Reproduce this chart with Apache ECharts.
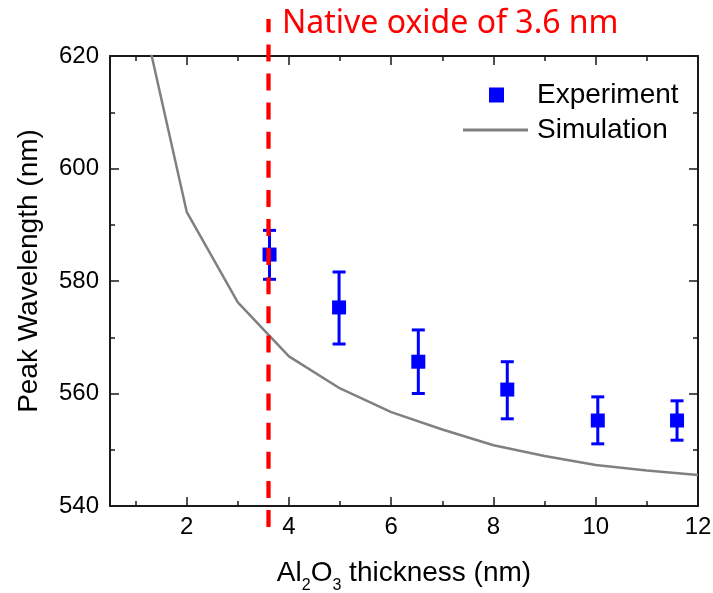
<!DOCTYPE html>
<html>
<head>
<meta charset="utf-8">
<script src="https://cdn.jsdelivr.net/npm/echarts@6/dist/echarts.min.js"></script>
<style>
html,body{margin:0;padding:0;background:#fff;}
#chart{width:713px;height:593px;}
</style>
</head>
<body>
<div id="chart"></div>
<script>
// ---- data ----
const expX    = [3.62, 4.98, 6.53, 8.27, 10.04, 11.59];
const expY    = [584.7, 575.3, 565.65, 560.7, 555.2, 555.2];
const expLow  = [580.3, 568.8, 560.0, 555.5, 551.05, 551.7];
const expHigh = [589.0, 581.6, 571.3, 565.65, 559.4, 558.7];

const simX = [1, 2, 3, 4, 5, 6, 7, 8, 9, 10, 11, 12];
const simY = [632.8, 592.3, 576.2, 566.6, 560.9, 556.7, 553.6, 550.8, 548.9, 547.3, 546.3, 545.5];

const nativeOxide = 3.6;

const xMajorTicks = [2, 4, 6, 8, 10, 12];
const xMinorTicks = [1, 3, 5, 7, 9, 11];
const xMin = 0.5, xMax = 12;
const yMin = 540, yMax = 620, yStep = 20;

const titleText = 'Native oxide of 3.6 nm';
// ----------------

const AXIS_COLOR = '#1a1a1a';
const FONT = 'Liberation Sans, Arial, sans-serif';

const chart = echarts.init(document.getElementById('chart'), null, {renderer: 'canvas'});

function xAxisCfg(pos, ticks, len, showLine, labels) {
  return {
    type: 'value', position: pos, min: xMin, max: xMax,
    axisLine: {show: showLine, onZero: false, lineStyle: {color: AXIS_COLOR, width: 2}},
    axisTick: {show: true, inside: true, length: len, customValues: ticks, lineStyle: {color: AXIS_COLOR, width: 1.5}},
    axisLabel: labels ? {show: true, customValues: ticks, fontSize: 24, fontFamily: FONT, color: '#000', margin: 9} : {show: false},
    splitLine: {show: false}
  };
}

const xAxes = [
  Object.assign(xAxisCfg('bottom', xMajorTicks, 9, true, true), {
    name: '{m|Al}{s|2}{m|O}{s|3}{m| thickness (nm)}',
    nameLocation: 'middle', nameGap: 52,
    nameTextStyle: {
      rich: {
        m: {fontSize: 28, fontFamily: FONT, color: '#000', lineHeight: 30},
        s: {fontSize: 16, fontFamily: FONT, color: '#000', lineHeight: 16, padding: [26, 0, 0, 0]}
      }
    }
  }),
  xAxisCfg('bottom', xMinorTicks, 5, false, false),
  xAxisCfg('top', xMajorTicks, 9, true, false),
  xAxisCfg('top', xMinorTicks, 5, false, false)
];

function yAxisCfg(pos, labels) {
  return {
    type: 'value', position: pos, min: yMin, max: yMax, interval: yStep,
    axisLine: {show: true, onZero: false, lineStyle: {color: AXIS_COLOR, width: 2}},
    axisTick: {show: true, inside: true, length: 9, lineStyle: {color: AXIS_COLOR, width: 1.5}},
    minorTick: {show: true, splitNumber: 2, length: 5, lineStyle: {color: AXIS_COLOR, width: 1.5}},
    axisLabel: labels ? {show: true, fontSize: 24, fontFamily: FONT, color: '#000', margin: 11} : {show: false},
    splitLine: {show: false}
  };
}

const yAxes = [
  Object.assign(yAxisCfg('left', true), {
    name: 'Peak Wavelength (nm)', nameLocation: 'middle', nameGap: 67,
    nameTextStyle: {fontSize: 28, fontFamily: FONT, color: '#000', padding: [0, 0, 0, 20]}
  }),
  yAxisCfg('right', false)
];

const option = {
  backgroundColor: '#fff',
  animation: false,
  title: {
    text: titleText, left: 282, top: 8, padding: 0,
    textStyle: {fontSize: 32, fontFamily: 'Noto Sans', fontWeight: 'normal', color: '#ff0000', lineHeight: 32}
  },
  grid: {left: 110, right: 15, top: 56, bottom: 87, containLabel: false, outerBoundsMode: 'none'},
  xAxis: xAxes,
  yAxis: yAxes,
  legend: [
    {
      data: ['Experiment'], left: 489, top: 80, padding: 0, orient: 'vertical',
      itemWidth: 15, itemHeight: 15, icon: 'rect',
      selectedMode: false,
      textStyle: {fontSize: 28, fontFamily: FONT, color: '#000', lineHeight: 30, padding: [0, 0, 0, 28]}
    },
    {
      data: ['Simulation'], left: 463, top: 115, padding: 0, orient: 'vertical',
      itemWidth: 65, itemHeight: 3, icon: 'rect', selectedMode: false,
      textStyle: {fontSize: 28, fontFamily: FONT, color: '#000', lineHeight: 30, padding: [0, 0, 0, 4]}
    }
  ],
  series: [
    {
      name: 'Simulation', type: 'line', xAxisIndex: 0, yAxisIndex: 0,
      data: simX.map((x, i) => [x, simY[i]]),
      symbol: 'none', showSymbol: false, clip: true,
      lineStyle: {color: '#808080', width: 2.5}, itemStyle: {color: '#808080'}, z: 2
    },
    {
      name: 'errorbars', type: 'custom', xAxisIndex: 0, yAxisIndex: 0,
      data: expX.map((x, i) => [x, expLow[i], expHigh[i]]),
      encode: {x: 0, y: [1, 2]},
      z: 3,
      renderItem: function (params, api) {
        const x = api.value(0), lo = api.value(1), hi = api.value(2);
        const pl = api.coord([x, lo]), ph = api.coord([x, hi]);
        const hw = 6.5;
        const st = {stroke: '#0000ff', lineWidth: 3, fill: null};
        return {
          type: 'group', children: [
            {type: 'line', shape: {x1: pl[0], y1: pl[1], x2: ph[0], y2: ph[1]}, style: st},
            {type: 'line', shape: {x1: pl[0] - hw, y1: pl[1], x2: pl[0] + hw, y2: pl[1]}, style: st},
            {type: 'line', shape: {x1: ph[0] - hw, y1: ph[1], x2: ph[0] + hw, y2: ph[1]}, style: st}
          ]
        };
      }
    },
    {
      name: 'Experiment', type: 'scatter', xAxisIndex: 0, yAxisIndex: 0,
      data: expX.map((x, i) => [x, expY[i]]),
      symbol: 'rect', symbolSize: 14,
      itemStyle: {color: '#0000ff', opacity: 1}, z: 4
    },
    {
      name: 'native', type: 'custom', xAxisIndex: 0, yAxisIndex: 0,
      data: [[nativeOxide, yMin, yMax]],
      encode: {x: 0, y: [1, 2]},
      clip: false, z: 5, silent: true,
      renderItem: function (params, api) {
        const x = api.value(0);
        const pb = api.coord([x, api.value(1)]), pt = api.coord([x, api.value(2)]);
        return {
          type: 'line',
          shape: {x1: pb[0], y1: pb[1] + 21, x2: pt[0], y2: pt[1] - 37},
          style: {stroke: '#ff0000', lineWidth: 4.3, lineDash: [17, 12.1], fill: null}
        };
      }
    }
  ]
};

chart.setOption(option);
</script>
</body>
</html>
